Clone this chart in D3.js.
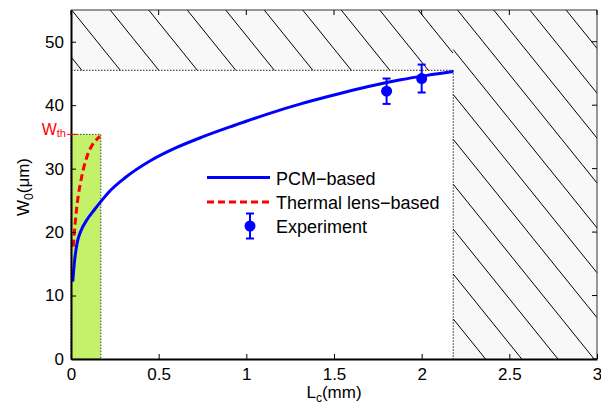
<!DOCTYPE html>
<html><head><meta charset="utf-8">
<script src="https://cdn.jsdelivr.net/npm/d3@7"></script>
<style>body{margin:0;background:#fff}svg{display:block}text{font-family:"Liberation Sans",Arial,sans-serif}</style>
</head><body><svg id="c" width="601" height="408"></svg>
<script>
const xTicks = [0, 0.5, 1, 1.5, 2, 2.5, 3];
const xTickLabels = ["0", "0.5", "1", "1.5", "2", "2.5", "3"];
const yTicks = [0, 10, 20, 30, 40, 50];
const yTickLabels = ["0", "10", "20", "30", "40", "50"];
const pcmX = [0.01, 0.02, 0.035, 0.055, 0.09, 0.13, 0.17, 0.23, 0.31, 0.45, 0.6, 0.75, 0.93, 1.12, 1.31, 1.5, 1.69, 1.88, 2.03, 2.18];
const pcmY = [12.2, 15.4, 18.3, 20.1, 21.9, 23.4, 24.8, 26.7, 28.6, 31.2, 33.3, 35.0, 36.8, 38.6, 40.2, 41.6, 42.9, 44.0, 44.7, 45.3];
const thermX = [0.013, 0.024, 0.036, 0.06, 0.09, 0.125, 0.154, 0.165];
const thermY = [17.7, 21.5, 24.6, 28.6, 31.8, 33.9, 34.8, 35.1];
const expX = [1.8, 2.0];
const expY = [42.2, 44.2];
const expErr = [2.0, 2.2];
const wTh = 35.4;
const lcMaxValid = 2.18;
const wMaxValid = 45.5;
const lcTh = 0.17;
const legendLabels = ["PCM\u2212based", "Thermal lens\u2212based", "Experiment"];

const svg = d3.select("#c");
const L = 71, R = 597, T = 10, B = 359;
const x = d3.scaleLinear().domain([0, 3]).range([L, R]);
const y = d3.scaleLinear().domain([0, 55]).range([B, T]);

// hatched forbidden regions (segments clipped analytically to the region)
function hatchRegion(x0, x1, y0, y1, anchorX, anchorY, spacing) {
  const px0 = x(x0), px1 = x(x1), py0 = y(y1), py1 = y(y0);
  svg.append("rect").attr("x", px0).attr("y", py0).attr("width", px1 - px0).attr("height", py1 - py0)
    .attr("fill", "#f8f8f8");
  const slope = 1.24;
  let d = "";
  for (let k = -60; k <= 60; k++) {
    const ax = anchorX + k * spacing;
    const yAtL = anchorY + (px0 - ax) * slope;
    const yAtR = anchorY + (px1 - ax) * slope;
    const ya = Math.max(py0, yAtL), yb = Math.min(py1, yAtR);
    if (yb <= ya) continue;
    const xa = ax + (ya - anchorY) / slope, xb = ax + (yb - anchorY) / slope;
    d += `M${xa},${ya}L${xb},${yb}`;
  }
  svg.append("path").attr("d", d).attr("fill", "none").attr("stroke", "#000").attr("stroke-width", 1);
}
hatchRegion(0, lcMaxValid, wMaxValid, 55, 71.7, 10, 38.5);
hatchRegion(lcMaxValid, 3, 0, 55, 455, 96.7, 36.2);

// dotted borders of valid region
svg.append("line").attr("x1", x(0)).attr("x2", x(lcMaxValid)).attr("y1", y(wMaxValid)).attr("y2", y(wMaxValid))
  .attr("stroke", "#222").attr("stroke-width", 1).attr("stroke-dasharray", "1.5,1.5");
svg.append("line").attr("x1", x(lcMaxValid)).attr("x2", x(lcMaxValid)).attr("y1", y(wMaxValid)).attr("y2", y(0))
  .attr("stroke", "#222").attr("stroke-width", 1).attr("stroke-dasharray", "1.5,1.5");

// green region
svg.append("rect").attr("x", x(0)).attr("y", y(wTh)).attr("width", x(lcTh) - x(0)).attr("height", y(0) - y(wTh))
  .attr("fill", "#c3f16a").attr("stroke", "#444").attr("stroke-width", 1).attr("stroke-dasharray", "1.5,1.5");

// curves
const line = d3.line().x(d => x(d[0])).y(d => y(d[1])).curve(d3.curveMonotoneX);
svg.append("path").datum(pcmX.map((v, i) => [v, pcmY[i]])).attr("d", line)
  .attr("fill", "none").attr("stroke", "#0000ff").attr("stroke-width", 3);
svg.append("path").datum(thermX.map((v, i) => [v, thermY[i]])).attr("d", line)
  .attr("fill", "none").attr("stroke", "#ff0000").attr("stroke-width", 3).attr("stroke-dasharray", "7,4");

// experiment
const eg = svg.append("g");
expX.forEach((v, i) => {
  const cx = x(v), t = y(expY[i] + expErr[i]), b = y(expY[i] - expErr[i]);
  eg.append("line").attr("x1", cx).attr("x2", cx).attr("y1", t).attr("y2", b).attr("stroke", "#0000ff").attr("stroke-width", 2);
  [t, b].forEach(yy => eg.append("line").attr("x1", cx - 4).attr("x2", cx + 4).attr("y1", yy).attr("y2", yy).attr("stroke", "#0000ff").attr("stroke-width", 2));
  eg.append("circle").attr("cx", cx).attr("cy", y(expY[i])).attr("r", 5.5).attr("fill", "#0000ff");
});

// axes frame
svg.append("line").attr("x1", L).attr("x2", R).attr("y1", T).attr("y2", T).attr("stroke", "#333").attr("stroke-width", 1);
svg.append("line").attr("x1", R).attr("x2", R).attr("y1", T).attr("y2", B).attr("stroke", "#333").attr("stroke-width", 1);
const xAxis = svg.append("g").attr("transform", `translate(0,${B})`)
  .call(d3.axisBottom(x).tickValues(xTicks).tickFormat((d, i) => xTickLabels[i]).tickSizeInner(-5).tickSizeOuter(0).tickPadding(9));
const yAxis = svg.append("g").attr("transform", `translate(${L},0)`)
  .call(d3.axisLeft(y).tickValues(yTicks).tickFormat((d, i) => yTickLabels[i]).tickSizeInner(-5).tickSizeOuter(0).tickPadding(7));
[xAxis, yAxis].forEach(a => {
  a.select(".domain").attr("stroke", "#000").attr("stroke-width", 2);
  a.selectAll(".tick line").attr("stroke", "#000").attr("stroke-width", 1);
  a.selectAll(".tick text").attr("font-size", 17).attr("fill", "#000").attr("font-family", '"Liberation Sans",Arial,sans-serif');
});
// top and right ticks
xTicks.forEach(v => svg.append("line").attr("x1", x(v)).attr("x2", x(v)).attr("y1", T).attr("y2", T + 5).attr("stroke", "#000"));
yTicks.forEach(v => svg.append("line").attr("x1", R).attr("x2", R - 5).attr("y1", y(v)).attr("y2", y(v)).attr("stroke", "#000"));

// W_th label
svg.append("line").attr("x1", L - 4).attr("x2", L + 6).attr("y1", y(wTh)).attr("y2", y(wTh)).attr("stroke", "#ff0000").attr("stroke-width", 1);
const wt = svg.append("text").attr("x", L - 5).attr("y", y(wTh) + 1).attr("text-anchor", "end").attr("fill", "#ff0000").attr("font-size", 16);
wt.append("tspan").text("W");
wt.append("tspan").attr("font-size", 11).attr("dy", 2).text("th");

// axis labels
const xl = svg.append("text").attr("x", 334).attr("y", 398).attr("text-anchor", "middle").attr("font-size", 17);
xl.append("tspan").text("L");
xl.append("tspan").attr("font-size", 12).attr("dy", 4).text("c");
xl.append("tspan").attr("dy", -4).text("(mm)");
const yl = svg.append("text").attr("transform", "translate(29,187) rotate(-90)").attr("text-anchor", "middle").attr("font-size", 17);
yl.append("tspan").text("W");
yl.append("tspan").attr("font-size", 12).attr("dy", 4).text("0");
yl.append("tspan").attr("dy", -4).text("(\u03bcm)");

// legend
const lg = svg.append("g");
const ly = [177.5, 202, 226];
lg.append("line").attr("x1", 207).attr("x2", 270).attr("y1", ly[0]).attr("y2", ly[0]).attr("stroke", "#0000ff").attr("stroke-width", 3);
lg.append("line").attr("x1", 207).attr("x2", 270).attr("y1", ly[1]).attr("y2", ly[1]).attr("stroke", "#ff0000").attr("stroke-width", 3).attr("stroke-dasharray", "7,4");
lg.append("line").attr("x1", 250).attr("x2", 250).attr("y1", ly[2] - 12.5).attr("y2", ly[2] + 12.5).attr("stroke", "#0000ff").attr("stroke-width", 2);
[ly[2] - 12.5, ly[2] + 12.5].forEach(yy => lg.append("line").attr("x1", 246).attr("x2", 254).attr("y1", yy).attr("y2", yy).attr("stroke", "#0000ff").attr("stroke-width", 2));
lg.append("circle").attr("cx", 250).attr("cy", ly[2]).attr("r", 5.5).attr("fill", "#0000ff");
legendLabels.forEach((t, i) => lg.append("text").attr("x", 276).attr("y", ly[i] + 7).attr("font-size", 18).attr("fill", "#000").text(t));
</script></body></html>
